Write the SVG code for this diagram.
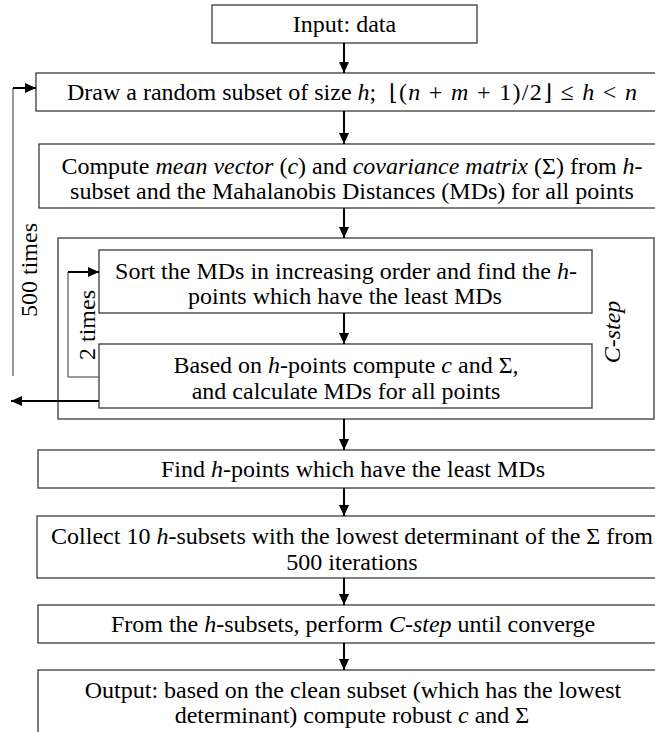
<svg xmlns="http://www.w3.org/2000/svg" width="655" height="732" viewBox="0 0 655 732">
<style>
.box{fill:#fff;stroke:#3a3a3a;stroke-width:1.3}
.t{font-family:"Liberation Serif","Times New Roman","DejaVu Serif",serif;font-size:24px;fill:#000;text-anchor:middle}
.s{text-anchor:start}
.i{font-style:italic}
.m{font-family:"DejaVu Serif","Liberation Serif",serif;font-size:22px}
.arr{stroke:#000;stroke-width:2;fill:none;marker-end:url(#ah)}
.thin{stroke:#555;stroke-width:1.2;fill:none}
</style>
<defs>
<marker id="ah" markerUnits="userSpaceOnUse" markerWidth="11" markerHeight="10" refX="11" refY="5" orient="auto">
<path d="M0,0 L11,5 L0,10 z" fill="#000"/>
</marker>
</defs>
<rect width="655" height="732" fill="#fff"/>
<g id="cstep">
<rect class="box" x="58" y="238" width="596" height="181"/>
<text class="t i" transform="translate(620,332) rotate(-90)">C-step</text>
</g>
<g id="input">
<rect class="box" x="212" y="5" width="265" height="38"/>
<text class="t" x="344.5" y="32">Input: data</text>
</g>
<g id="draw">
<rect class="box" x="36" y="73" width="632" height="38"/>
<text class="t s" x="67" y="100">Draw a random subset of size <tspan class="i">h</tspan>;</text>
<text class="t s" x="389" y="100" textLength="248" lengthAdjust="spacing"><tspan class="m">⌊</tspan>(<tspan class="i">n</tspan> + <tspan class="i">m</tspan> + 1)/2<tspan class="m">⌋</tspan> ≤ <tspan class="i">h</tspan> &lt; <tspan class="i">n</tspan></text>
</g>
<g id="compute">
<rect class="box" x="39" y="144" width="628" height="64"/>
<text class="t" x="352" y="174">Compute <tspan class="i">mean vector</tspan> (<tspan class="i">c</tspan>) and <tspan class="i">covariance matrix</tspan> (Σ) from <tspan class="i">h</tspan>-</text>
<text class="t" x="352" y="199">subset and the Mahalanobis Distances (MDs) for all points</text>
</g>
<g id="sort">
<rect class="box" x="99" y="250" width="493" height="63"/>
<text class="t" x="346" y="279">Sort the MDs in increasing order and find the <tspan class="i">h</tspan>-</text>
<text class="t" x="345" y="304">points which have the least MDs</text>
</g>
<g id="based">
<rect class="box" x="99" y="344" width="493" height="64"/>
<text class="t" x="346" y="373">Based on <tspan class="i">h</tspan>-points compute <tspan class="i">c</tspan> and Σ,</text>
<text class="t" x="346" y="399">and calculate MDs for all points</text>
</g>
<g id="find">
<rect class="box" x="38" y="450" width="630" height="38"/>
<text class="t" x="353" y="477">Find <tspan class="i">h</tspan>-points which have the least MDs</text>
</g>
<g id="collect">
<rect class="box" x="37" y="516" width="631" height="62"/>
<text class="t" x="352" y="544">Collect 10 <tspan class="i">h</tspan>-subsets with the lowest determinant of the Σ from</text>
<text class="t" x="352" y="570">500 iterations</text>
</g>
<g id="from">
<rect class="box" x="38" y="605" width="630" height="38"/>
<text class="t" x="353" y="632">From the <tspan class="i">h</tspan>-subsets, perform <tspan class="i">C-step</tspan> until converge</text>
</g>
<g id="output">
<rect class="box" x="38" y="670" width="630" height="80"/>
<text class="t" x="353" y="698">Output: based on the clean subset (which has the lowest</text>
<text class="t" x="352" y="723">determinant) compute robust <tspan class="i">c</tspan> and Σ</text>
</g>
<g id="labels">
<text class="t" transform="translate(37,270) rotate(-90)">500 times</text>
<text class="t" transform="translate(95,325) rotate(-90)">2 times</text>
</g>
<g id="connectors">
<line class="arr" x1="344" y1="43" x2="344" y2="73"/>
<line class="arr" x1="344" y1="111" x2="344" y2="144"/>
<line class="arr" x1="344" y1="208" x2="344" y2="238"/>
<line class="arr" x1="344" y1="313" x2="344" y2="344"/>
<line class="arr" x1="344" y1="419" x2="344" y2="450"/>
<line class="arr" x1="344" y1="488" x2="344" y2="516"/>
<line class="arr" x1="344" y1="578" x2="344" y2="605"/>
<line class="arr" x1="344" y1="643" x2="344" y2="670"/>
<line class="thin" x1="68" y1="377" x2="99" y2="377"/>
<line class="thin" x1="68" y1="377" x2="68" y2="272"/>
<line class="arr" x1="68" y1="272" x2="99" y2="272"/>
<line class="arr" x1="99" y1="401" x2="11" y2="401"/>
<line class="thin" x1="13" y1="376" x2="13" y2="88"/>
<line class="arr" x1="13" y1="88" x2="36" y2="88"/>
</g>
</svg>
